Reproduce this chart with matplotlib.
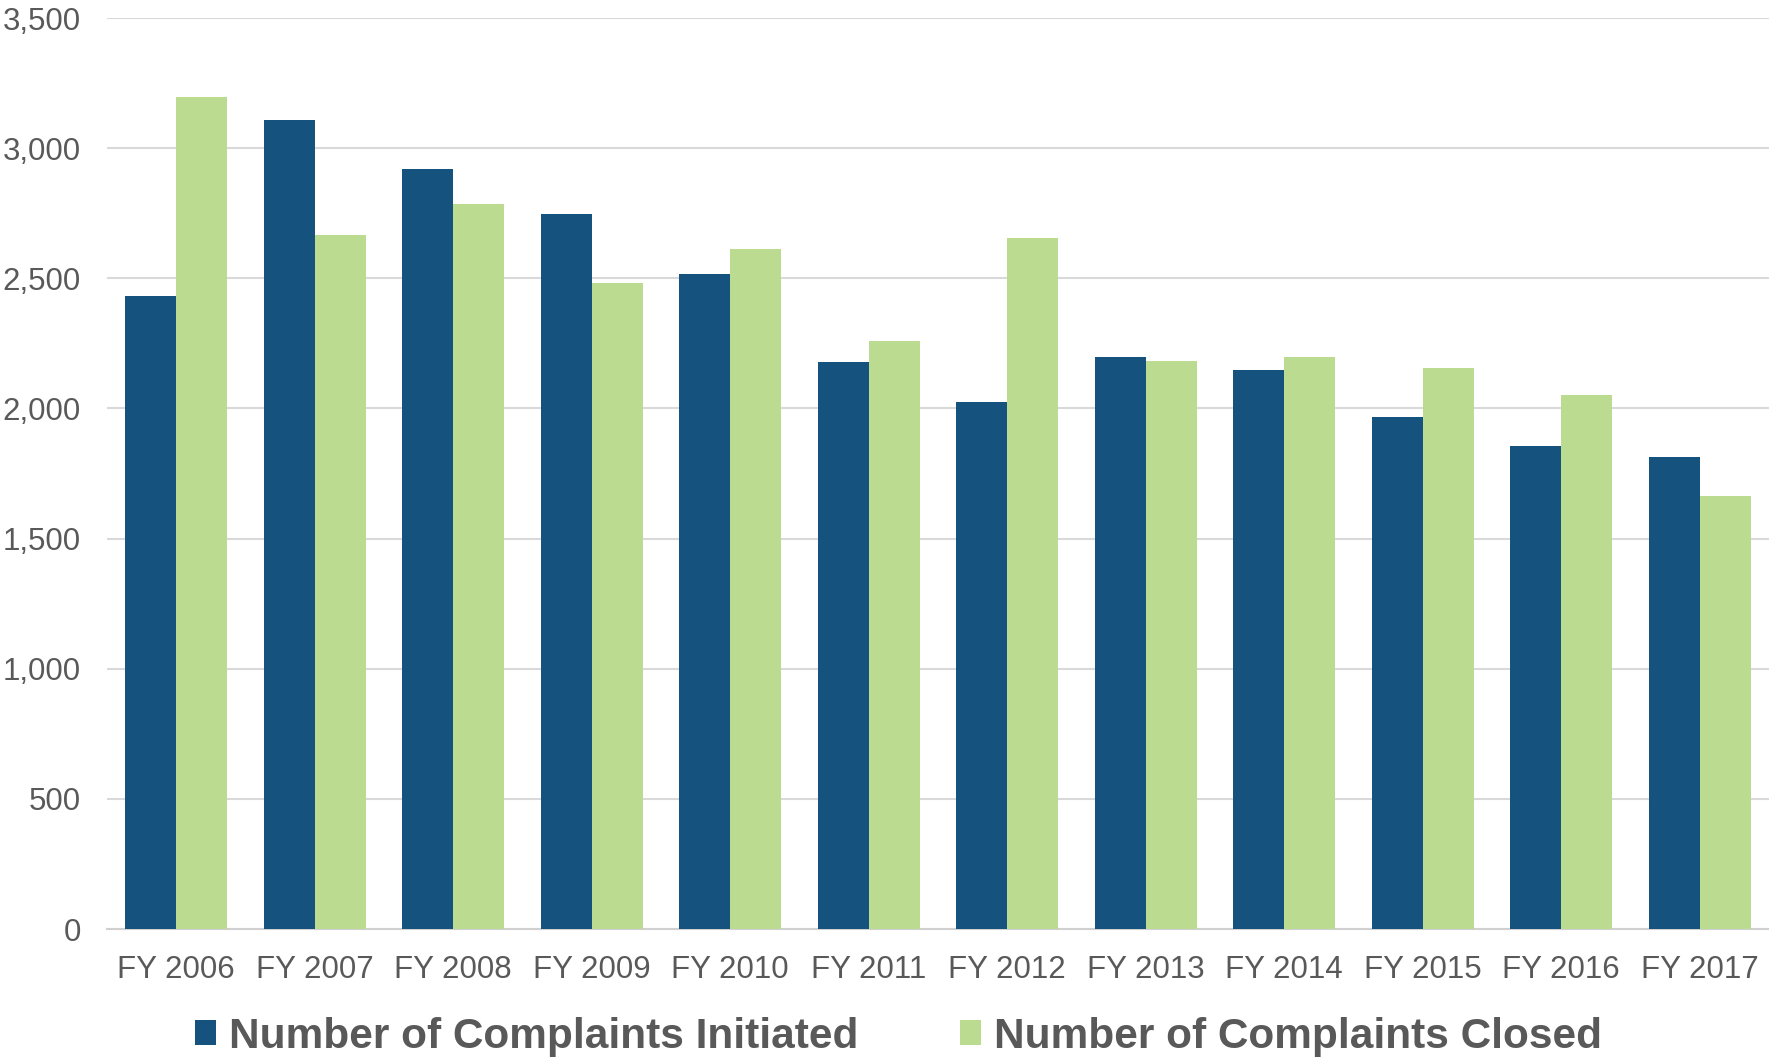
import matplotlib
matplotlib.use("Agg")
import matplotlib.pyplot as plt
from matplotlib.ticker import FuncFormatter
import numpy as np

categories = ["FY 2006", "FY 2007", "FY 2008", "FY 2009", "FY 2010", "FY 2011",
              "FY 2012", "FY 2013", "FY 2014", "FY 2015", "FY 2016", "FY 2017"]
initiated = [2434, 3110, 2920, 2746, 2517, 2179, 2023, 2196, 2149, 1967, 1854, 1815]
closed = [3197, 2668, 2785, 2482, 2612, 2261, 2655, 2183, 2196, 2157, 2053, 1663]
series_names = ["Number of Complaints Initiated", "Number of Complaints Closed"]
yticks = [0, 500, 1000, 1500, 2000, 2500, 3000, 3500]

BLUE = "#16527E"
GREEN = "#BBDB91"
GREY = "#595959"
FONT = ["Liberation Sans Narrow", "Liberation Sans", "DejaVu Sans"]

plt.rcParams["font.family"] = FONT

fig = plt.figure(figsize=(17.69, 10.62), dpi=100)
ax = fig.add_axes([0.0605, 0.1252, 0.9395, 0.8578])

x = np.arange(len(categories))
w = 0.368
ax.bar(x - w / 2, initiated, width=w, color=BLUE, label=series_names[0], zorder=3)
ax.bar(x + w / 2, closed, width=w, color=GREEN, label=series_names[1], zorder=3)

ax.set_xlim(-0.5, len(categories) - 0.5)
ax.set_ylim(0, 3500)
ax.set_yticks(yticks)
ax.yaxis.set_major_formatter(FuncFormatter(lambda v, p: f"{int(v):,}"))
ax.set_xticks(x)
ax.set_xticklabels(categories)

ax.grid(axis="y", color="#D9D9D9", linewidth=1.5, zorder=0)
for s in ["top", "right", "left"]:
    ax.spines[s].set_visible(False)
ax.spines["bottom"].set_color("#D0D0D0")
ax.spines["bottom"].set_linewidth(1.5)
ax.tick_params(axis="both", length=0, labelsize=22.5, labelcolor=GREY)
ax.tick_params(axis="x", pad=19)
ax.tick_params(axis="y", pad=19)

leg = fig.legend(loc="center", bbox_to_anchor=(0.508, 0.024), ncol=2, frameon=False,
                 prop={"family": FONT, "weight": "bold", "size": 30.5},
                 handlelength=0.5, handleheight=0.5, handletextpad=0.3,
                 columnspacing=2.4)
for t in leg.get_texts():
    t.set_color(GREY)

fig.savefig("out.png", dpi=100)
